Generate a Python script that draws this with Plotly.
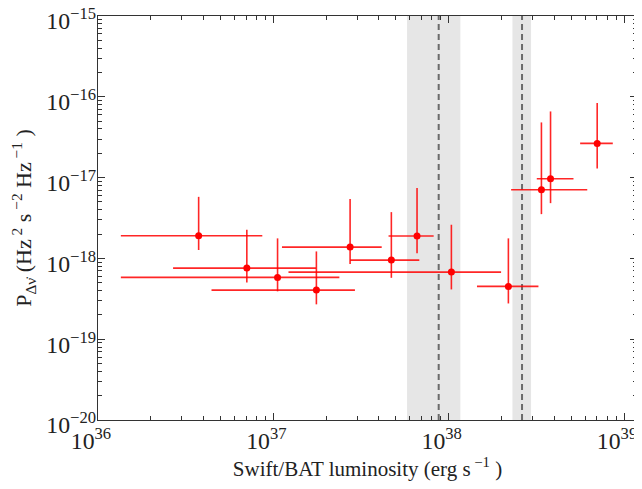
import plotly.graph_objects as go

# Swift/BAT luminosity (erg/s): value, lower and upper bounds
lum = [3.75e36, 7.06e36, 1.057e37, 1.76e37, 2.74e37, 4.71e37, 6.60e37, 1.036e38, 2.19e38, 3.38e38, 3.81e38, 7.03e38]
lum_lo = [1.35e36, 2.68e36, 1.35e36, 4.44e36, 1.12e37, 2.74e37, 4.54e37, 1.22e37, 1.45e38, 2.27e38, 3.18e38, 5.62e38]
lum_hi = [8.65e36, 1.75e37, 2.38e37, 2.92e37, 4.15e37, 6.80e37, 8.21e37, 1.99e38, 3.25e38, 6.17e38, 5.15e38, 8.63e38]

# Power P (Hz^2 s^-2 Hz^-1): value, lower and upper bounds
pw = [1.91e-18, 7.59e-19, 5.82e-19, 4.05e-19, 1.38e-18, 9.53e-19, 1.89e-18, 6.77e-19, 4.50e-19, 7.06e-18, 9.66e-18, 2.65e-17]
pw_lo = [1.27e-18, 5.05e-19, 3.91e-19, 2.70e-19, 8.5e-19, 5.75e-19, 1.16e-18, 4.13e-19, 2.77e-19, 3.53e-18, 4.83e-18, 1.30e-17]
pw_hi = [5.78e-18, 2.26e-18, 1.77e-18, 1.22e-18, 5.42e-18, 3.74e-18, 7.41e-18, 2.61e-18, 1.77e-18, 4.82e-17, 6.59e-17, 8.36e-17]

# Shaded luminosity ranges and their central (dashed) values
band_lo = [5.79e37, 2.31e38]
band_hi = [1.166e38, 2.95e38]
band_mid = [8.77e37, 2.62e38]

FONT = "Liberation Serif"
TXT = "#222222"
SP = "\u00a0"

fig = go.Figure()

for lo, hi in zip(band_lo, band_hi):
    fig.add_vrect(x0=lo, x1=hi, fillcolor="#e6e6e6", opacity=1, line_width=0, layer="below")
for m in band_mid:
    fig.add_vline(x=m, line=dict(color="#6b6b6b", width=2, dash="6px,4px"), layer="below")

fig.add_trace(go.Scatter(
    x=lum, y=pw, mode="markers",
    marker=dict(color="#ff0000", size=7),
    error_x=dict(type="data", symmetric=False,
                 array=[h - v for h, v in zip(lum_hi, lum)],
                 arrayminus=[v - l for v, l in zip(lum, lum_lo)],
                 color="rgba(255,0,0,0.85)", thickness=1.6, width=0),
    error_y=dict(type="data", symmetric=False,
                 array=[h - v for h, v in zip(pw_hi, pw)],
                 arrayminus=[v - l for v, l in zip(pw, pw_lo)],
                 color="rgba(255,0,0,0.85)", thickness=1.6, width=0),
    showlegend=False,
))

axis_common = dict(
    type="log", showgrid=False, zeroline=False, automargin=False,
    showline=True, linecolor="#333333", linewidth=1.3, mirror="allticks",
    ticks="inside", ticklen=7, tickwidth=1.2, tickcolor="#333333",
    dtick=1, exponentformat="power", ticklabeloverflow="allow",
    minor=dict(ticks="inside", ticklen=3.5, tickwidth=1, tickcolor="#333333", dtick="D1", showgrid=False),
    tickfont=dict(family=FONT, size=19, color=TXT),
)

fig.update_xaxes(**axis_common, range=[36, 39.074], ticklabelshift=-7,
                 title=dict(text=f"Swift/BAT luminosity (erg s<sup>{SP}\u22121</sup>{SP})",
                            font=dict(family=FONT, size=21, color=TXT), standoff=8))
fig.update_yaxes(**axis_common, range=[-20, -14.9999], ticklabelshift=5, ticklabelstandoff=-3,
                 title=dict(text=f"P<sub>\u0394\u03bd\u0307</sub>{SP}(Hz<sup>{SP}2</sup>{SP}s<sup>{SP}\u22122</sup>{SP}Hz<sup>{SP}\u22121</sup>{SP})",
                            font=dict(family=FONT, size=22, color=TXT), standoff=12))

# the page body adds an 8px offset, so the figure is sized to fill the 642x489 window
fig.update_layout(
    width=634, height=481, autosize=False,
    margin=dict(l=90, r=5, t=8, b=69),
    plot_bgcolor="white", paper_bgcolor="white",
    font=dict(family=FONT),
)

fig.write_html("out.html")
